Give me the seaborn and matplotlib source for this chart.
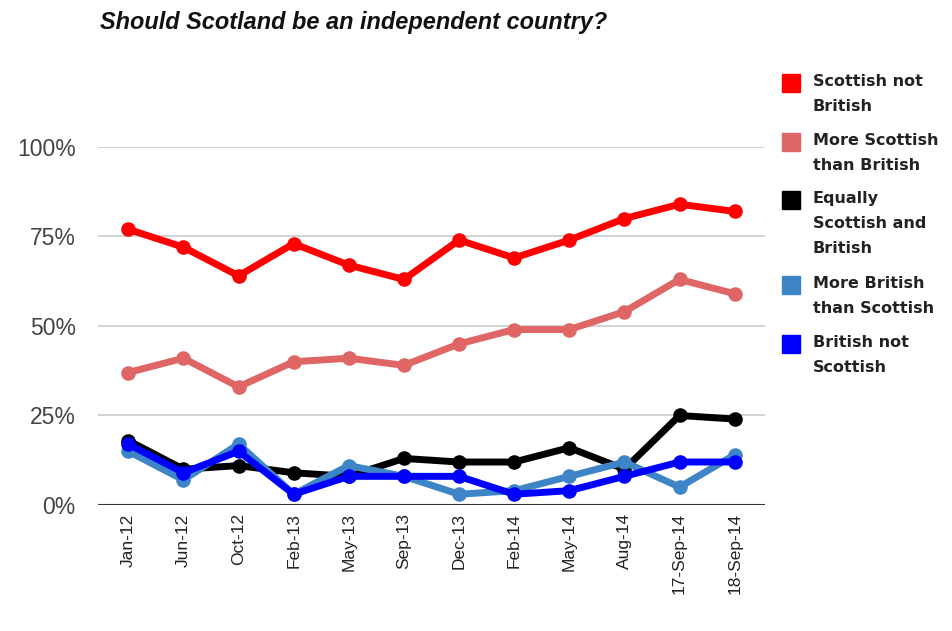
import pandas as pd
import matplotlib.pyplot as plt
import seaborn as sns
from matplotlib.patches import Rectangle

DATES = ["Jan-12", "Jun-12", "Oct-12", "Feb-13", "May-13", "Sep-13",
         "Dec-13", "Feb-14", "May-14", "Aug-14", "17-Sep-14", "18-Sep-14"]

SCOTTISH_NOT_BRITISH = [77, 72, 64, 73, 67, 63, 74, 69, 74, 80, 84, 82]
MORE_SCOTTISH = [37, 41, 33, 40, 41, 39, 45, 49, 49, 54, 63, 59]
EQUALLY = [18, 10, 11, 9, 8, 13, 12, 12, 16, 10, 25, 24]
MORE_BRITISH = [15, 7, 17, 3, 11, 8, 3, 4, 8, 12, 5, 14]
BRITISH_NOT_SCOTTISH = [17, 9, 15, 3, 8, 8, 8, 3, 4, 8, 12, 12]

SERIES = {
    "Scottish not\nBritish": SCOTTISH_NOT_BRITISH,
    "More Scottish\nthan British": MORE_SCOTTISH,
    "Equally\nScottish and\nBritish": EQUALLY,
    "More British\nthan Scottish": MORE_BRITISH,
    "British not\nScottish": BRITISH_NOT_SCOTTISH,
}
COLORS = ["#ff0000", "#e06666", "#000000", "#3d85c6", "#0000ff"]
Y_TICKS = [0, 25, 50, 75, 100]

rows = []
for name, vals in SERIES.items():
    for d, v in zip(DATES, vals):
        rows.append({"date": d, "value": v, "series": name})
df = pd.DataFrame(rows)

sns.set_style("white")
plt.rcParams["font.family"] = ["Liberation Sans", "DejaVu Sans"]

fig = plt.figure(figsize=(9.53, 6.31), dpi=100)
ax = fig.add_axes([0.1028, 0.1997, 0.6999, 0.5674])

sns.lineplot(data=df, x="date", y="value", hue="series",
             palette=dict(zip(SERIES.keys(), COLORS)), sort=False,
             marker="o", markersize=10.5, markeredgewidth=0, linewidth=5,
             legend=False, ax=ax, clip_on=False, zorder=3)

ax.set_xlim(-0.55, len(DATES) - 0.45)
ax.set_ylim(0, 100)
ax.set_yticks(Y_TICKS)
ax.set_yticklabels([f"{t}%" for t in Y_TICKS], fontsize=16.5, color="#444444")
ax.set_xticks(range(len(DATES)))
ax.set_xticklabels(DATES, rotation=90, fontsize=12.5, color="#222222")
ax.tick_params(axis="x", length=0, pad=6)
ax.tick_params(axis="y", length=0, pad=16)
ax.set_xlabel("")
ax.set_ylabel("")
for s in ax.spines.values():
    s.set_visible(False)
for t in Y_TICKS[1:]:
    ax.axhline(t, color="#cccccc", linewidth=1.2, zorder=1)
ax.axhline(0, color="#333333", linewidth=1.5, zorder=2)

fig.text(100 / 953, 1 - 22 / 631, "Should Scotland be an independent country?",
         fontsize=16.9, fontweight="bold", fontstyle="italic",
         va="center", ha="left", color="#111111")

# legend drawn by hand so the swatch lines up with the first text line
tops = [74, 133, 191, 276, 335]
for (name, _), col, top in zip(SERIES.items(), COLORS, tops):
    fig.add_artist(Rectangle((782 / 953, 1 - (top + 18) / 631), 18 / 953, 18 / 631,
                             transform=fig.transFigure, color=col))
    fig.text(813 / 953, 1 - top / 631, name, fontsize=11.5, fontweight="bold",
             family=["DejaVu Sans"], color="#222222", va="top", ha="left",
             linespacing=1.85)

plt.savefig("out.png", dpi=100)
